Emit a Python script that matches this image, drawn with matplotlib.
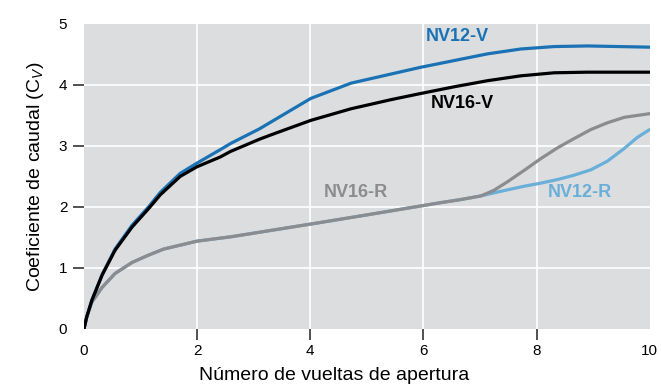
import matplotlib
matplotlib.use("Agg")
import matplotlib.pyplot as plt

plt.rcParams['font.family'] = ['Liberation Sans', 'DejaVu Sans']
plt.rcParams['mathtext.fontset'] = 'custom'
plt.rcParams['mathtext.rm'] = 'Liberation Sans'
plt.rcParams['mathtext.it'] = 'Liberation Sans:italic'

# Curvas de caudal por vueltas de apertura
x_nv12v = [0, 0.05, 0.14, 0.32, 0.55, 0.85, 1.14, 1.35, 1.70, 2.0, 2.41, 2.59, 3.10, 3.30, 4.01, 4.72, 5.43,
           5.95, 6.54, 7.13, 7.72, 8.31, 8.90, 10.0]
y_nv12v = [0, 0.20, 0.47, 0.89, 1.31, 1.70, 2.00, 2.24, 2.55, 2.72, 2.94, 3.04, 3.28, 3.39, 3.78, 4.03, 4.18,
           4.29, 4.40, 4.51, 4.59, 4.63, 4.64, 4.62]

x_nv16v = [0, 0.05, 0.14, 0.32, 0.55, 0.85, 1.14, 1.35, 1.70, 2.0, 2.41, 2.59, 3.10, 3.30, 4.01, 4.72, 5.43,
           5.95, 6.54, 7.13, 7.72, 8.31, 8.90, 10.0]
y_nv16v = [0, 0.20, 0.47, 0.88, 1.29, 1.67, 1.97, 2.20, 2.50, 2.66, 2.82, 2.91, 3.11, 3.18, 3.42, 3.61, 3.76,
           3.86, 3.97, 4.07, 4.15, 4.20, 4.21, 4.21]

x_nv16r = [0, 0.05, 0.14, 0.32, 0.55, 0.85, 1.14, 1.41, 2.0, 2.59, 4.01, 5.0, 6.30, 6.65, 7.01, 7.24, 7.48,
           7.78, 8.07, 8.37, 8.66, 8.96, 9.25, 9.55, 10.0]
y_nv16r = [0, 0.20, 0.44, 0.68, 0.91, 1.09, 1.21, 1.31, 1.44, 1.51, 1.72, 1.87, 2.07, 2.12, 2.18, 2.27, 2.41,
           2.60, 2.79, 2.97, 3.12, 3.27, 3.38, 3.47, 3.53]

x_nv12r = [0, 0.05, 0.14, 0.32, 0.55, 0.85, 1.14, 1.41, 2.0, 2.59, 4.01, 5.0, 6.30, 6.65, 7.01, 7.24, 7.48,
           7.78, 8.07, 8.37, 8.66, 8.96, 9.25, 9.55, 9.78, 10.0]
y_nv12r = [0, 0.20, 0.44, 0.68, 0.91, 1.09, 1.21, 1.31, 1.44, 1.51, 1.72, 1.87, 2.07, 2.12, 2.18, 2.23, 2.28,
           2.34, 2.39, 2.45, 2.52, 2.61, 2.75, 2.96, 3.14, 3.27]

xticks = [2, 4, 6, 8]
xends = [0, 10]
yticks = [1, 2, 3, 4]
yends = [0, 5]

c_blue = '#1a72b4'
c_black = '#000000'
c_gray = '#8c8c8e'
c_light = '#6aafd9'

fig = plt.figure(figsize=(6.61, 3.87), dpi=100)
ax = fig.add_axes([0.127, 0.150, 0.856, 0.788])
ax.set_facecolor('#dcdddf')

style = dict(lw=2.3, solid_capstyle='round', solid_joinstyle='round')
ax.plot(x_nv12r, y_nv12r, color=c_light, **style)
ax.plot(x_nv16r, y_nv16r, color=c_gray, **style)
ax.plot(x_nv12v, y_nv12v, color=c_blue, **style)
ax.plot(x_nv16v, y_nv16v, color=c_black, **style)

lab = dict(fontsize=13, fontweight='bold', ha='center', va='center')
ax.text(6.6, 4.79, 'NV12-V', color=c_blue, **lab)
ax.text(6.68, 3.70, 'NV16-V', color=c_black, **lab)
ax.text(4.8, 2.23, 'NV16-R', color=c_gray, **lab)
ax.text(8.76, 2.23, 'NV12-R', color=c_light, **lab)

ax.set_xlim(0, 10)
ax.set_ylim(0, 5)
ax.set_xticks(xticks)
ax.set_yticks(yticks)
ax.tick_params(axis='both', which='major', labelsize=11, length=8, width=1.1, color='#222222')
ax.tick_params(axis='x', which='major', pad=3)
ax.tick_params(axis='y', which='major', pad=4)

# end values carry a label but no tick mark
ax.set_xticks(xends, labels=[str(v) for v in xends], minor=True)
ax.set_yticks(yends, labels=[str(v) for v in yends], minor=True)
ax.tick_params(axis='x', which='minor', labelsize=11, length=0, pad=3 + 8)
ax.tick_params(axis='y', which='minor', labelsize=11, length=0, pad=4 + 8)

for s in ax.spines.values():
    s.set_visible(False)
ax.grid(True, which='major', color='white', linewidth=1.2)
ax.set_axisbelow(True)

ax.set_xlabel('Número de vueltas de apertura', fontsize=14)
ax.xaxis.set_label_coords(0.443, -0.125)
ax.set_ylabel(r'Coeficiente de caudal (C$_{\mathit{V}}$)', fontsize=14, labelpad=9)

fig.savefig('out.png', dpi=100)
